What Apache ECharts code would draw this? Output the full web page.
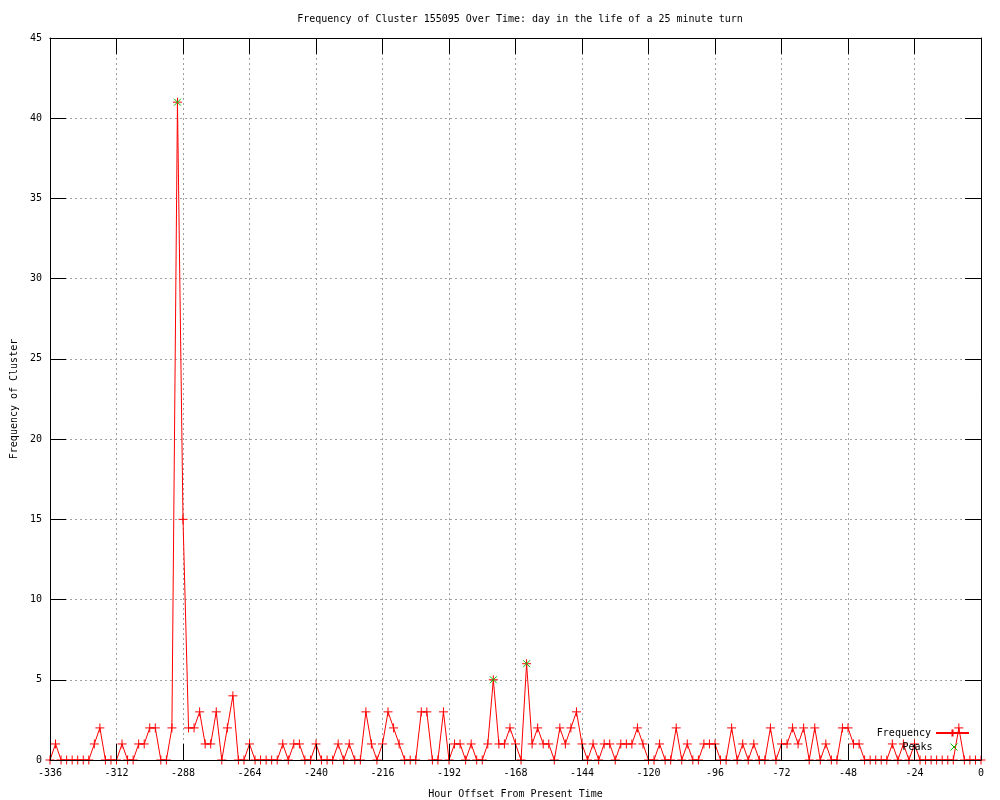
<!DOCTYPE html>
<html>
<head>
<meta charset="utf-8">
<script src="https://cdn.jsdelivr.net/npm/echarts@6/dist/echarts.min.js"></script>
<style>
html,body{margin:0;padding:0;background:#fff;}
#chart{width:1000px;height:800px;}
</style>
</head>
<body>
<div id="chart"></div>
<script>
// Hour offsets (x) and cluster frequencies (y)
const hours = [
 -336,-334,-332,-330,-328,-326,-324,-322,-320,-318,-316,-314,-312,-310,-308,-306,-304,-302,-300,-298,
 -296,-294,-292,-290,-288,-286,-284,-282,-280,-278,-276,-274,-272,-270,-268,-266,-264,-262,-260,-258,
 -256,-254,-252,-250,-248,-246,-244,-242,-240,-238,-236,-234,-232,-230,-228,-226,-224,-222,-220,-218,
 -216,-214,-212,-210,-208,-206,-204,-202,-200,-198,-196,-194,-192,-190,-188,-186,-184,-182,-180,-178,
 -176,-174,-172,-170,-168,-166,-164,-162,-160,-158,-156,-154,-152,-150,-148,-146,-144,-142,-140,-138,
 -136,-134,-132,-130,-128,-126,-124,-122,-120,-118,-116,-114,-112,-110,-108,-106,-104,-102,-100,-98,
 -96,-94,-92,-90,-88,-86,-84,-82,-80,-78,-76,-74,-72,-70,-68,-66,-64,-62,-60,-58,
 -56,-54,-52,-50,-48,-46,-44,-42,-40,-38,-36,-34,-32,-30,-28,-26,-24,-22,-20,-18,
 -16,-14,-12,-10,-8,-6,-4,-2,0
];
const frequency = [
 0,1,0,0,0,0,0,0,1,2,0,0,0,1,0,0,1,1,2,2,
 0,0,2,41,15,2,2,3,1,1,3,0,2,4,0,0,1,0,0,0,
 0,0,1,0,1,1,0,0,1,0,0,0,1,0,1,0,0,3,1,0,
 1,3,2,1,0,0,0,3,3,0,0,3,0,1,1,0,1,0,0,1,
 5,1,1,2,1,0,6,1,2,1,1,0,2,1,2,3,1,0,1,0,
 1,1,0,1,1,1,2,1,0,0,1,0,0,2,0,1,0,0,1,1,
 1,0,0,2,0,1,0,1,0,0,2,0,1,1,2,1,2,0,2,0,
 1,0,0,2,2,1,1,0,0,0,0,0,1,0,1,0,1,0,0,0,
 0,0,0,0,2,0,0,0,0
];
const peakHours = [-290, -176, -164];
const peakValues = [41, 5, 6];

const FONT = 'DejaVu Sans Mono';
const FS = 10;
const plusPath = 'path://M0,5L10,5M5,0L5,10';
const crossPath = 'path://M0,0L10,10M10,0L0,10';

const chart = echarts.init(document.getElementById('chart'), null, {renderer:'canvas'});
const txt = {fontFamily: FONT, fontSize: FS, color: '#000', fontWeight: 'normal'};

const option = {
  animation: false,
  backgroundColor: '#ffffff',
  textStyle: {fontFamily: FONT},
  title: {
    text: 'Frequency of Cluster 155095 Over Time: day in the life of a 25 minute turn',
    left: 515, top: 9, textAlign: 'center',
    textStyle: txt
  },
  grid: {left: 50, right: 19, top: 38, bottom: 40, show: false,
         containLabel: false, outerBoundsMode: 'none'},
  legend: [
    {data: ['Frequency'], right: 30, top: 728, orient: 'vertical', align: 'right',
     itemWidth: 33, itemHeight: 9, textStyle: txt, selectedMode: false, padding: 0},
    {data: [{name: 'Peaks', icon: crossPath,
             itemStyle: {color: 'rgba(0,0,0,0)', borderColor: '#00c000', borderWidth: 1}}],
     right: 42, top: 742, orient: 'vertical', align: 'right',
     itemWidth: 33, itemHeight: 7, textStyle: txt, selectedMode: false, padding: 0}
  ],
  xAxis: [
    {type: 'value', min: -336, max: 0, interval: 24, position: 'bottom', z: 5,
     axisLine: {show: true, onZero: false, lineStyle: {color: '#000', width: 1}},
     axisTick: {show: true, inside: true, length: 16, lineStyle: {color: '#000'}},
     axisLabel: Object.assign({margin: 8, showMinLabel: true, showMaxLabel: true}, txt),
     splitLine: {show: false},
     name: 'Hour Offset From Present Time', nameLocation: 'middle', nameGap: 29,
     nameTextStyle: txt},
    {type: 'value', min: -336, max: 0, interval: 24, position: 'top', z: 0,
     axisLine: {show: true, onZero: false, lineStyle: {color: '#000', width: 1}},
     axisTick: {show: true, inside: true, length: 16, lineStyle: {color: '#000'}},
     axisLabel: {show: false},
     splitLine: {show: true, lineStyle: {color: '#a0a0a0', width: 1, type: [2, 3]}}}
  ],
  yAxis: [
    {type: 'value', min: 0, max: 45, interval: 5, position: 'left', z: 5,
     axisLine: {show: true, onZero: false, lineStyle: {color: '#000', width: 1}},
     axisTick: {show: true, inside: true, length: 16, lineStyle: {color: '#000'}},
     axisLabel: Object.assign({margin: 8}, txt),
     splitLine: {show: false},
     name: 'Frequency of Cluster', nameLocation: 'middle', nameGap: 31, nameRotate: 90,
     nameTextStyle: txt},
    {type: 'value', min: 0, max: 45, interval: 5, position: 'right', z: 0,
     axisLine: {show: true, onZero: false, lineStyle: {color: '#000', width: 1}},
     axisTick: {show: true, inside: true, length: 16, lineStyle: {color: '#000'}},
     axisLabel: {show: false},
     splitLine: {show: true, lineStyle: {color: '#a0a0a0', width: 1, type: [2, 3]}}}
  ],
  series: [
    {name: 'Frequency', type: 'line', xAxisIndex: 0, yAxisIndex: 0,
     data: hours.map((h, i) => [h, frequency[i]]),
     symbol: plusPath, symbolSize: 9, showSymbol: true, showAllSymbol: true, clip: false,
     lineStyle: {color: '#ff0000', width: 1},
     itemStyle: {color: 'rgba(0,0,0,0)', borderColor: '#ff0000', borderWidth: 1},
     emphasis: {disabled: true}, silent: true, z: 2},
    {name: 'Peaks', type: 'scatter', xAxisIndex: 0, yAxisIndex: 0,
     data: peakHours.map((h, i) => [h, peakValues[i]]),
     symbol: crossPath, symbolSize: 7, clip: false,
     itemStyle: {color: 'rgba(0,0,0,0)', borderColor: '#00c000', borderWidth: 1, opacity: 1},
     emphasis: {disabled: true}, silent: true, z: 3}
  ]
};
chart.setOption(option);
</script>
</body>
</html>
